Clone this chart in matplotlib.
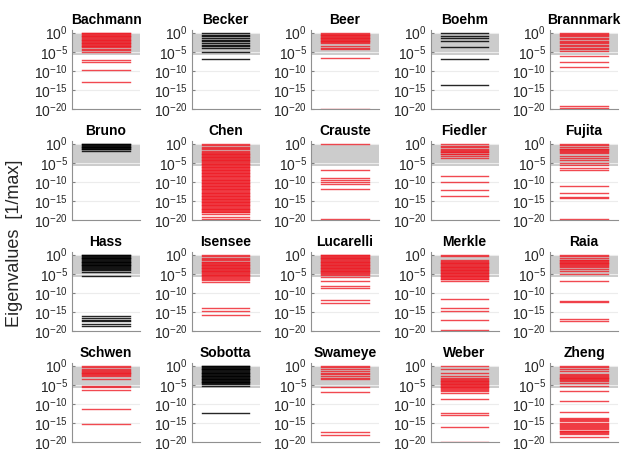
import numpy as np
import matplotlib.pyplot as plt

# log10 of eigenvalues (normalised to max)
bachmann = [0, -0.2, -0.4, -0.6, -0.8, -1.0, -1.2, -1.4, -1.6, -1.8, -2.0, -2.2, -2.4, -2.6,
            -2.8, -3.0, -3.2, -3.4, -3.6, -3.8, -4.2, -4.6, -5.0, -7.1, -7.7, -9.9, -13.0]
becker = [0, -0.5, -1.0, -1.4, -1.8, -2.2, -2.7, -3.1, -3.5, -4.0, -5.1, -6.8]
beer = [0, -0.3, -0.5, -0.7, -0.9, -1.1, -1.3, -1.5, -1.7, -1.9, -2.1, -2.3, -2.5, -2.7,
        -3.5, -4.0, -4.4, -6.6, -20.0]
boehm = [0, -1.0, -1.5, -2.1, -3.7, -6.8, -13.7]
brannmark = [0, -0.4, -0.7, -1.0, -1.4, -1.7, -2.1, -2.4, -2.8, -3.1, -3.5, -4.0, -4.4, -4.8,
             -6.1, -7.7, -8.9, -19.1, -19.7]
bruno = [0, -0.2, -0.4, -0.6, -0.8, -1.0, -1.2, -1.4, -1.5, -1.9]
chen = [0, -0.4, -0.8, -1.1, -1.5, -1.8, -2.1, -2.4, -2.6, -2.8, -3.0, -3.2, -3.4, -3.6, -3.8,
        -4.0, -4.2, -4.4, -4.6, -4.8, -5.0, -5.2, -5.4, -5.6, -5.8, -6.0, -6.2, -6.4, -6.6,
        -6.8, -7.0, -7.2, -7.4, -7.6, -7.8, -8.0, -8.2, -8.4, -8.6, -8.8, -9.0, -9.2, -9.4,
        -9.6, -9.8, -10.0, -10.2, -10.4, -10.6, -10.8, -11.0, -11.2, -11.4, -11.6, -11.8,
        -12.0, -12.2, -12.4, -12.6, -12.8, -13.0, -13.2, -13.4, -13.6, -13.8, -14.0, -14.2,
        -14.4, -14.6, -14.8, -15.0, -15.2, -15.4, -15.6, -15.8, -16.0, -16.2, -16.4, -16.6,
        -16.8, -17.0, -17.2, -17.4, -17.6, -17.8, -18.0, -18.5, -19.2, -19.8]
crauste = [0, -6.9, -8.9, -9.5, -10.0, -10.5, -11.9, -19.8]
fiedler = [0, -0.5, -1.0, -1.3, -1.6, -1.9, -2.1, -2.3, -2.6, -2.8, -3.2, -3.8,
           -8.6, -10.0, -12.2, -13.6]
fujita = [0, -0.4, -0.9, -1.3, -1.5, -1.7, -1.9, -2.1, -2.5, -3.2, -3.8, -4.4, -5.0, -5.7,
          -6.3, -6.9, -11.2, -12.8, -14.0, -14.2, -19.8]
hass = [0, -0.2, -0.4, -0.6, -0.8, -1.0, -1.2, -1.4, -1.6, -1.8, -2.0, -2.2, -2.4, -2.6,
        -2.8, -3.0, -3.2, -3.4, -3.7, -4.1, -4.5, -5.6, -16.2, -16.6, -17.0, -17.5, -18.1, -18.6]
isensee = [0, -0.4, -0.8, -1.2, -1.5, -1.8, -2.0, -2.2, -2.4, -2.6, -2.8, -3.0, -3.2, -3.4,
           -3.6, -3.8, -4.0, -4.2, -4.4, -4.6, -4.8, -5.0, -5.2, -5.4, -5.6, -5.8, -6.0, -6.3,
           -6.6, -7.2, -14.1, -14.7, -15.7]
lucarelli = [0, -0.2, -0.4, -0.6, -0.8, -1.0, -1.2, -1.4, -1.6, -1.8, -2.0, -2.2, -2.4, -2.6,
             -2.8, -3.0, -3.2, -3.4, -3.6, -3.8, -4.0, -4.2, -4.4, -4.6, -4.8, -5.0, -5.2,
             -5.8, -6.9, -8.1, -8.8, -12.0, -12.7]
merkle = [0, -0.4, -1.5, -1.7, -1.9, -2.1, -2.3, -2.5, -2.7, -2.9, -3.1, -3.3, -3.5, -3.7,
          -3.9, -4.1, -4.3, -4.5, -4.7, -4.9, -5.1, -5.3, -5.5, -5.7, -5.9, -6.1, -6.3, -6.5,
          -6.8, -11.5, -14.1, -14.8, -17.2, -19.8]
raia = [0, -0.4, -0.9, -1.3, -1.5, -1.7, -1.9, -2.1, -2.3, -2.5, -2.7, -2.9, -3.1, -3.8,
        -4.4, -5.0, -6.9, -12.1, -12.5, -16.9, -17.3]
schwen = [0, -0.4, -0.9, -1.2, -1.4, -1.6, -1.8, -2.0, -2.2, -2.4, -2.7, -3.5, -5.2, -5.6,
          -6.3, -11.3, -15.4]
sobotta = [0, -0.2, -0.4, -0.6, -0.8, -1.0, -1.2, -1.4, -1.6, -1.8, -2.0, -2.2, -2.4, -2.6,
           -2.8, -3.0, -3.2, -3.4, -3.6, -3.8, -4.0, -4.2, -4.4, -4.6, -4.8, -5.2, -12.3]
swameye = [0, -0.4, -0.9, -1.3, -1.8, -2.2, -2.6, -3.1, -3.5, -5.7, -6.8, -17.5, -18.2]
weber = [0, -0.9, -1.8, -2.6, -3.2, -3.5, -3.7, -3.9, -4.1, -4.3, -4.5, -4.7, -4.9, -5.1,
         -5.3, -5.5, -5.7, -5.9, -6.1, -6.3, -6.6, -7.1, -8.8, -12.3, -13.0, -16.1, -19.9]
zheng = [0, -0.4, -0.9, -1.3, -2.3, -2.5, -2.7, -2.9, -3.1, -3.3, -3.5, -3.8, -4.1, -4.5,
         -5.4, -6.6, -9.2, -12.1, -13.7, -14.0, -14.3, -14.6, -14.9, -15.2, -15.5, -15.8,
         -16.1, -16.4, -16.7, -17.0, -17.2, -17.4, -17.6, -17.8, -18.6]

names = ['Bachmann', 'Becker', 'Beer', 'Boehm', 'Brannmark',
         'Bruno', 'Chen', 'Crauste', 'Fiedler', 'Fujita',
         'Hass', 'Isensee', 'Lucarelli', 'Merkle', 'Raia',
         'Schwen', 'Sobotta', 'Swameye', 'Weber', 'Zheng']
values = [bachmann, becker, beer, boehm, brannmark,
          bruno, chen, crauste, fiedler, fujita,
          hass, isensee, lucarelli, merkle, raia,
          schwen, sobotta, swameye, weber, zheng]
black_models = ['Becker', 'Boehm', 'Bruno', 'Hass', 'Sobotta']


plt.rcParams['font.family'] = ['Liberation Sans', 'DejaVu Sans']
plt.rcParams['mathtext.default'] = 'regular'

W, H = 621, 455
fig = plt.figure(figsize=(W / 100, H / 100), dpi=100)

for i, (name, vals) in enumerate(zip(names, values)):
	r, c = divmod(i, 5)
	left = 72 + 119.5 * c
	bottom = 109 + 111 * r
	ax = fig.add_axes([left / W, 1 - bottom / H, 68 / W, 79 / H])

	ax.axhspan(10**-5.9, 1, color='#cccccc', lw=0, zorder=0)

	if name in black_models:
		col, a = 'black', 0.85
	else:
		col, a = '#ee1c25', 0.8
	for v in vals:
		ax.plot([0.15, 0.85], [10**v, 10**v], color=col, alpha=a, lw=1.0, zorder=2)

	ax.set_yscale('log')
	ax.set_ylim(1e-20, 10**0.7)
	ax.set_xlim(0, 1)
	ax.set_yticks([1e-20, 1e-15, 1e-10, 1e-5, 1])
	ax.minorticks_off()
	ax.set_xticks([])
	ax.yaxis.grid(True, color='#ececec', lw=0.8, zorder=1)
	ax.set_axisbelow(True)
	ax.tick_params(axis='y', direction='in', length=2, labelsize=10, colors='#262626',
				   color='#808080', pad=3)
	for s in ['top', 'right']:
		ax.spines[s].set_visible(False)
	for s in ['left', 'bottom']:
		ax.spines[s].set_color('#909090')
		ax.spines[s].set_linewidth(0.8)
	ax.set_title(name, fontsize=10, fontweight='bold', pad=4)

fig.text(15 / W, 1 - 243 / H, 'Eigenvalues  [1/max]', rotation=90, ha='center', va='center',
		 fontsize=13, color='#262626')

fig.savefig('out.png', dpi=100)
